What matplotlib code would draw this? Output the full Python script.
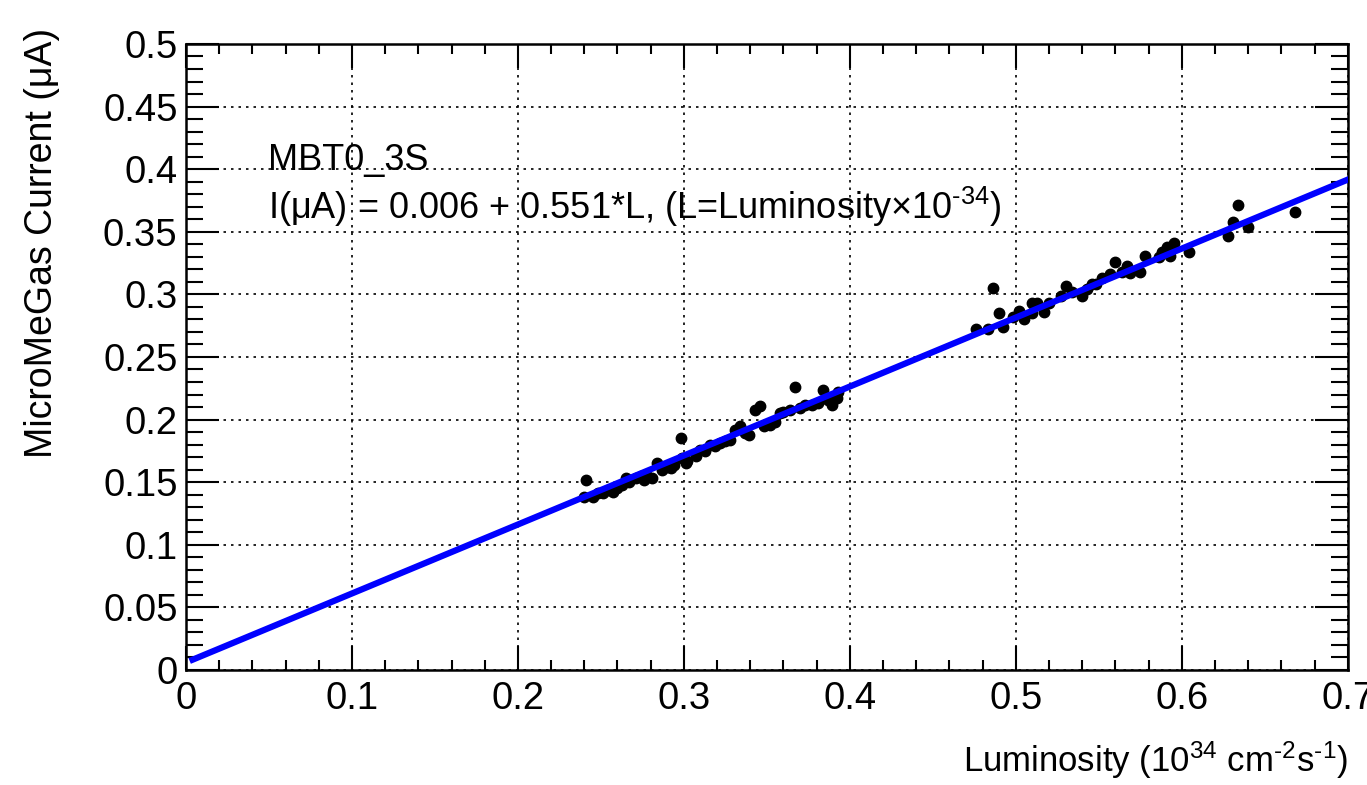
import numpy as np
import matplotlib
matplotlib.use('Agg')
from matplotlib import pyplot as plt
from matplotlib.ticker import MultipleLocator

plt.rcParams['font.family'] = ['Liberation Sans', 'DejaVu Sans']
plt.rcParams['mathtext.default'] = 'regular'

# measured points (luminosity, current)
lumi = [0.241, 0.240, 0.245, 0.248, 0.251, 0.254, 0.257, 0.260, 0.263, 0.265,
        0.267, 0.271, 0.274, 0.276, 0.278, 0.281, 0.284, 0.287, 0.290, 0.292,
        0.294, 0.298, 0.299, 0.301, 0.302, 0.307, 0.310, 0.313, 0.316, 0.319,
        0.322, 0.325, 0.328, 0.331, 0.334, 0.337, 0.339, 0.343, 0.346, 0.348,
        0.352, 0.355, 0.358, 0.360, 0.364, 0.367, 0.370, 0.373, 0.377, 0.381,
        0.384, 0.387, 0.389, 0.392, 0.393,
        0.476, 0.483, 0.486, 0.490, 0.492, 0.498, 0.502, 0.505, 0.510, 0.510,
        0.513, 0.517, 0.520, 0.527, 0.530, 0.534, 0.540, 0.543, 0.546, 0.548,
        0.552, 0.557, 0.560, 0.564, 0.567, 0.569, 0.575, 0.578, 0.586, 0.588,
        0.591, 0.593, 0.595, 0.604, 0.628, 0.631, 0.634, 0.640, 0.668]
current = [0.152, 0.138, 0.138, 0.141, 0.141, 0.144, 0.142, 0.145, 0.148, 0.153,
           0.150, 0.153, 0.155, 0.152, 0.155, 0.153, 0.165, 0.160, 0.162, 0.161,
           0.164, 0.185, 0.169, 0.165, 0.167, 0.171, 0.176, 0.175, 0.180, 0.179,
           0.181, 0.183, 0.184, 0.192, 0.195, 0.189, 0.188, 0.208, 0.211, 0.195,
           0.196, 0.198, 0.205, 0.206, 0.208, 0.226, 0.209, 0.212, 0.212, 0.213,
           0.224, 0.216, 0.212, 0.217, 0.222,
           0.272, 0.272, 0.305, 0.285, 0.274, 0.282, 0.287, 0.280, 0.293, 0.285,
           0.293, 0.286, 0.293, 0.299, 0.307, 0.302, 0.299, 0.304, 0.308, 0.308,
           0.313, 0.316, 0.326, 0.318, 0.323, 0.317, 0.318, 0.331, 0.330, 0.334,
           0.338, 0.331, 0.341, 0.334, 0.347, 0.358, 0.371, 0.354, 0.366]

# linear fit
p0 = 0.006
p1 = 0.551
fit_range = [0.004, 0.7]

fig = plt.figure(figsize=(13.67, 7.85), dpi=100)
ax = fig.add_axes([0.136, 0.1465, 0.850, 0.7975])

ax.plot(lumi, current, 'o', color='black', markersize=7.5, zorder=3)
xf = np.linspace(fit_range[0], fit_range[1], 2)
ax.plot(xf, p0 + p1 * xf, color='#0000ff', linewidth=4.5, zorder=4)

ax.set_xlim(0, 0.7)
ax.set_ylim(0, 0.5)
ax.xaxis.set_major_locator(MultipleLocator(0.1))
ax.xaxis.set_minor_locator(MultipleLocator(0.02))
ax.yaxis.set_major_locator(MultipleLocator(0.05))
ax.yaxis.set_minor_locator(MultipleLocator(0.01))
ax.xaxis.set_major_formatter(plt.FuncFormatter(lambda v, p: '%g' % round(v, 3)))
ax.yaxis.set_major_formatter(plt.FuncFormatter(lambda v, p: '%g' % round(v, 3)))

ax.grid(True, which='major', color='black', linestyle=(0, (1.5, 3)), linewidth=1.2)
ax.tick_params(which='both', direction='in', top=True, right=True, labelsize=27.5, width=1.5)
ax.tick_params(axis='x', which='major', length=17, pad=8)
ax.tick_params(axis='x', which='minor', length=7)
ax.tick_params(axis='y', which='major', length=24, pad=6)
ax.tick_params(axis='y', which='minor', length=12)
for s in ax.spines.values():
    s.set_linewidth(1.8)

ax.text(0.0494, 0.407, 'MBT0_3S', fontsize=26, va='center')
ax.text(0.0494, 0.370, 'I(\u03bcA) = 0.006 + 0.551*L, (L=Luminosity\u00d710$^{\u201034}$)',
        fontsize=26, va='center')

fig.text(1348 / 1367, 1 - 760 / 785, 'Luminosity (10$^{34}$ cm$^{\u20102}$s$^{\u20101}$)',
         fontsize=25, ha='right', va='center')
fig.text(42 / 1367, 1 - 28 / 785, 'MicroMeGas Current (\u03bcA)', fontsize=27,
         rotation=90, ha='center', va='top')

fig.savefig('out.png', dpi=100)
